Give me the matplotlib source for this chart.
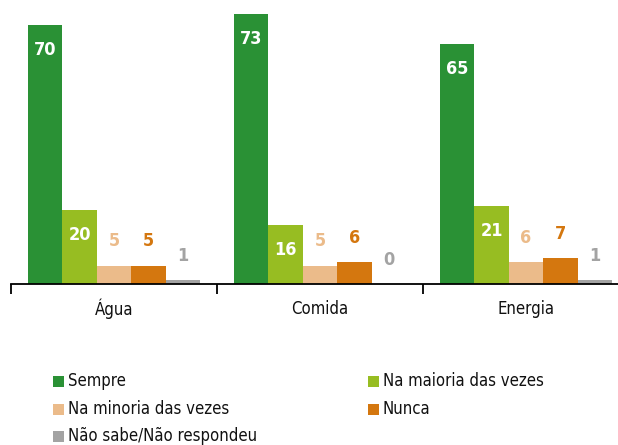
import matplotlib
matplotlib.use("Agg")
import matplotlib.pyplot as plt
from matplotlib.patches import Rectangle
import numpy as np

plt.rcParams['font.family'] = ['DejaVu Sans']
plt.rcParams['font.stretch'] = 'condensed'

categories = ["Água", "Comida", "Energia"]
series = ["Sempre", "Na maioria das vezes", "Na minoria das vezes", "Nunca", "Não sabe/Não respondeu"]
sempre = [70, 73, 65]
maioria = [20, 16, 21]
minoria = [5, 5, 6]
nunca = [5, 6, 7]
nao_sabe = [1, 0, 1]
values = [sempre, maioria, minoria, nunca, nao_sabe]
colors = ["#2a9135", "#97bd22", "#ebbb8a", "#d4770f", "#a3a3a3"]
inside = [True, True, False, False, False]

W, H = 618, 445
fig = plt.figure(figsize=(W / 100, H / 100), dpi=100)
ax = fig.add_axes([11 / W, 1 - 284 / H, (W - 11) / W, 284 / H])

x = np.arange(len(categories))
bw = 0.167
for k, (vals, col) in enumerate(zip(values, colors)):
    pos = x + (k - 2) * bw
    ax.bar(pos, vals, width=bw, color=col, linewidth=0)
    for p, v in zip(pos, vals):
        if inside[k]:
            ax.text(p, v - 6.8, str(v), ha='center', va='center', color='white',
                    fontsize=13, fontweight='bold')
        else:
            ax.text(p, v + 6.5, str(v), ha='center', va='center', color=col,
                    fontsize=13, fontweight='bold')

ax.set_xlim(-0.5, 2.5 - 11 / 206)
ax.set_ylim(0, 284 / 3.7)
for s in ['top', 'right', 'left']:
    ax.spines[s].set_visible(False)
ax.spines['bottom'].set_linewidth(1.3)
ax.set_yticks([])
ax.set_xticks([-0.5, 0.5, 1.5])
ax.tick_params(axis='x', length=7, width=1.3, labelbottom=False)
for xi, c in zip(x, categories):
    ax.text(xi, -6.8, c, ha='center', va='center', fontsize=12, color='#111111')

# legend
leg_rows = [(53, 381, 0), (368, 381, 1), (53, 409, 2), (368, 409, 3), (53, 436, 4)]
sq = 11
for lx, ly, i in leg_rows:
    fig.add_artist(Rectangle((lx / W, 1 - (ly + sq / 2) / H), sq / W, sq / H,
                             transform=fig.transFigure, color=colors[i], linewidth=0))
    fig.text((lx + 15) / W, 1 - ly / H, series[i], ha='left', va='center',
             fontsize=12, color='#111111')

fig.savefig("out.png", dpi=100)
